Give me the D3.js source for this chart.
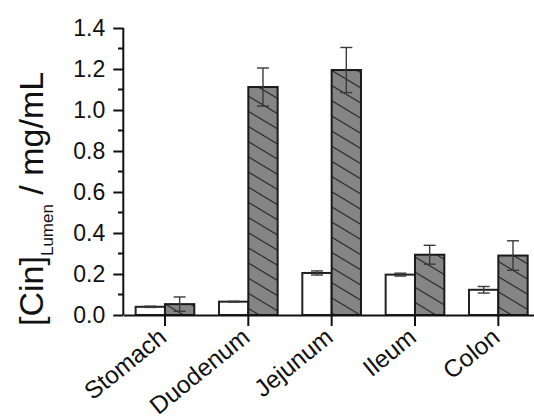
<!DOCTYPE html>
<html>
<head>
<meta charset="utf-8">
<script src="https://cdn.jsdelivr.net/npm/d3@7"></script>
<style>
  body { margin: 0; background: #fff; }
  svg { display: block; font-family: "Liberation Sans", Arial, sans-serif; }
</style>
</head>
<body>
<div id="chart"></div>
<script>
// data
const categories = ["Stomach", "Duodenum", "Jejunum", "Ileum", "Colon"]
const plainValues = [0.040, 0.065, 0.205, 0.197, 0.123]
const plainErrors = [0.003, 0.002, 0.010, 0.007, 0.016]
const hatchedValues = [0.053, 1.112, 1.195, 0.294, 0.290]
const hatchedErrors = [0.035, 0.093, 0.110, 0.046, 0.072]
const yTicks = [0, 0.2, 0.4, 0.6, 0.8, 1.0, 1.2, 1.4]

const width = 534, height = 419

const svg = d3.select("#chart").append("svg")
    .attr("width", width)
    .attr("height", height)

// hatch pattern for the second series
const defs = svg.append("defs")
const pat = defs.append("pattern")
    .attr("id", "hatch")
    .attr("patternUnits", "userSpaceOnUse")
    .attr("width", 13).attr("height", 13)
    .attr("patternTransform", "rotate(31)")
pat.append("rect").attr("width", 13).attr("height", 13).attr("fill", "#858585")
pat.append("line")
    .attr("x1", 0).attr("x2", 13).attr("y1", 6.5).attr("y2", 6.5)
    .attr("stroke", "#222").attr("stroke-width", 1.1)

// scales
const x = d3.scaleBand()
    .domain(categories)
    .range([123.3, 540])
    .padding(0)

const y = d3.scaleLinear()
    .domain([0, 1.4])
    .range([315, 28])

const barW = x.bandwidth() * 0.352
const cx = d => x(d) + x.bandwidth() / 2

// bars
const plainData = categories.map((c, i) => ({c, v: plainValues[i], e: plainErrors[i]}))
const hatchData = categories.map((c, i) => ({c, v: hatchedValues[i], e: hatchedErrors[i]}))

svg.append("g").selectAll("rect")
  .data(plainData)
  .join("rect")
    .attr("x", d => cx(d.c) - barW)
    .attr("y", d => y(d.v))
    .attr("width", barW)
    .attr("height", d => y(0) - y(d.v))
    .attr("fill", "#fff")
    .attr("stroke", "#222")
    .attr("stroke-width", 2)

svg.append("g").selectAll("rect")
  .data(hatchData)
  .join("rect")
    .attr("x", d => cx(d.c))
    .attr("y", d => y(d.v))
    .attr("width", barW)
    .attr("height", d => y(0) - y(d.v))
    .attr("fill", "url(#hatch)")
    .attr("stroke", "#1a1a1a")
    .attr("stroke-width", 2)

// error bars
function errorBars(data, offset) {
  const g = svg.append("g")
      .attr("stroke", "#3a3a3a")
      .attr("stroke-width", 1.4)
      .attr("fill", "none")
  const cap = 6
  const bx = d => cx(d.c) + offset
  g.selectAll(".stem").data(data).join("line")
      .attr("x1", bx).attr("x2", bx)
      .attr("y1", d => y(d.v + d.e)).attr("y2", d => y(d.v - d.e))
  g.selectAll(".top").data(data).join("line")
      .attr("x1", d => bx(d) - cap).attr("x2", d => bx(d) + cap)
      .attr("y1", d => y(d.v + d.e)).attr("y2", d => y(d.v + d.e))
  g.selectAll(".bot").data(data).join("line")
      .attr("x1", d => bx(d) - cap).attr("x2", d => bx(d) + cap)
      .attr("y1", d => y(d.v - d.e)).attr("y2", d => y(d.v - d.e))
}
errorBars(plainData, -barW / 2)
errorBars(hatchData, barW / 2)

// y axis with minor ticks
const yAxis = svg.append("g")
    .attr("transform", "translate(123.3,0)")
    .call(d3.axisLeft(y).tickValues(yTicks).tickSize(10).tickPadding(8).tickFormat(d3.format(".1f")))
yAxis.selectAll("path, line").attr("stroke", "#111").attr("stroke-width", 2)
yAxis.select(".domain").attr("d", `M0,${y(0)}V${y(1.4)}`)
yAxis.selectAll("text")
    .attr("fill", "#111")
    .attr("font-size", 23)
    .attr("font-family", "Liberation Sans, Arial, sans-serif")

const minor = d3.range(0.1, 1.4, 0.2)
svg.append("g").selectAll("line")
  .data(minor)
  .join("line")
    .attr("x1", 118).attr("x2", 123.3)
    .attr("y1", d => y(d)).attr("y2", d => y(d))
    .attr("stroke", "#111").attr("stroke-width", 2)

// x axis
const xAxis = svg.append("g")
    .attr("transform", `translate(0,${y(0)})`)
    .call(d3.axisBottom(x).tickSize(11).tickSizeOuter(0).tickFormat(""))
xAxis.selectAll("path, line").attr("stroke", "#111").attr("stroke-width", 2)

svg.append("g").selectAll("text")
  .data(categories)
  .join("text")
    .attr("transform", d => `translate(${cx(d) + 3},${y(0) + 25}) rotate(-39)`)
    .attr("text-anchor", "end")
    .attr("font-size", 24.5)
    .attr("fill", "#111")
    .text(d => d)

// y axis title
const title = svg.append("text")
    .attr("transform", "translate(43,326) rotate(-90)")
    .attr("font-size", 34)
    .attr("fill", "#111")
title.append("tspan").text("[Cin]")
title.append("tspan").attr("font-size", 17).attr("dy", 10).text("Lumen")
title.append("tspan").attr("dy", -10).text(" / mg/mL")
</script>
</body>
</html>
